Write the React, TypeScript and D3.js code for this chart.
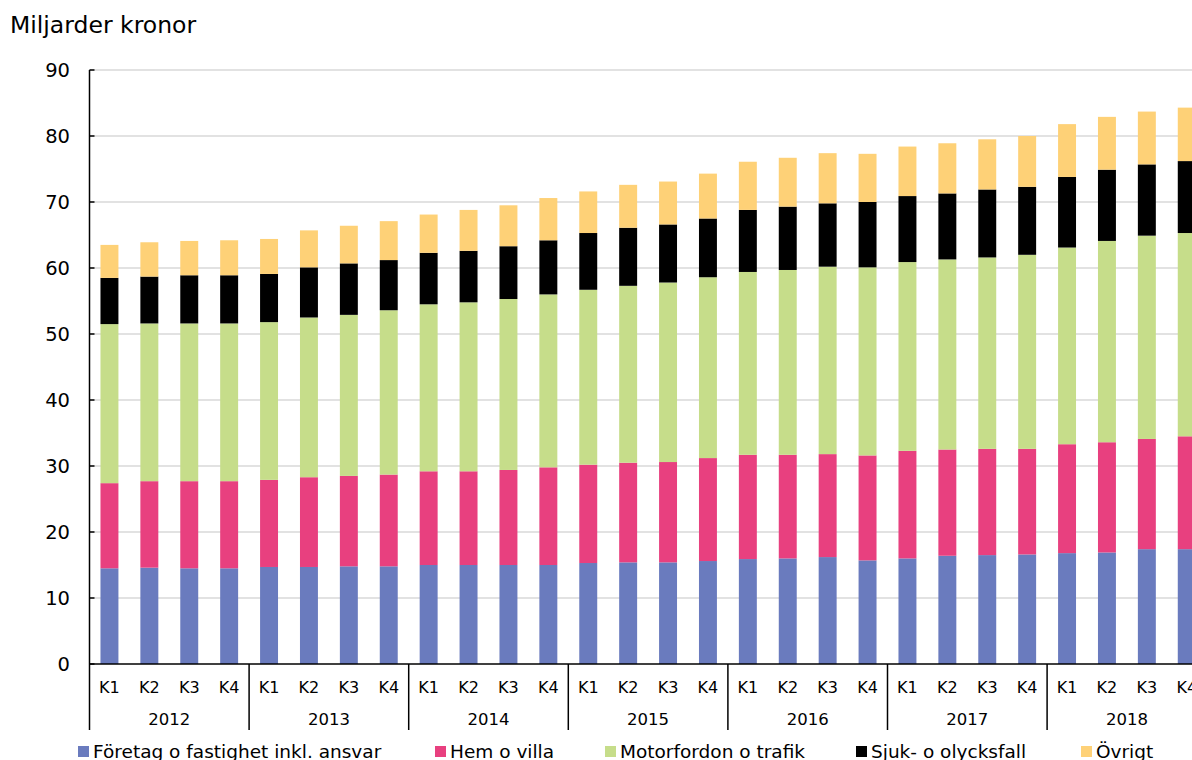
import React from 'react';
import * as d3 from 'd3';

const years = ['2012', '2013', '2014', '2015', '2016', '2017', '2018'];
const quarters = ['K1', 'K2', 'K3', 'K4'];

const seriesNames = [
  'Företag o fastighet inkl. ansvar',
  'Hem o villa',
  'Motorfordon o trafik',
  'Sjuk- o olycksfall',
  'Övrigt',
];
const seriesColors = ['#6a7bbe', '#e8407f', '#c6dd8a', '#000000', '#fed177'];

// one value per quarter, 2012 K1 .. 2018 K4
const foretag = [14.5, 14.6, 14.5, 14.5, 14.7, 14.7, 14.8, 14.8, 15.0, 15.0, 15.0, 15.0, 15.3, 15.4, 15.4, 15.6, 15.9, 16.0, 16.2, 15.7, 16.0, 16.4, 16.5, 16.6, 16.8, 16.9, 17.4, 17.4];
const hem = [12.9, 13.1, 13.2, 13.2, 13.2, 13.6, 13.7, 13.9, 14.2, 14.2, 14.4, 14.8, 14.9, 15.1, 15.2, 15.6, 15.8, 15.7, 15.6, 15.9, 16.3, 16.1, 16.1, 16.0, 16.5, 16.7, 16.7, 17.1];
const motor = [24.1, 23.9, 23.9, 23.9, 23.9, 24.2, 24.4, 24.9, 25.3, 25.6, 25.9, 26.2, 26.5, 26.8, 27.2, 27.4, 27.7, 28.0, 28.4, 28.5, 28.6, 28.8, 29.0, 29.4, 29.8, 30.5, 30.8, 30.8];
const sjuk = [7.0, 7.1, 7.3, 7.3, 7.3, 7.6, 7.8, 7.6, 7.8, 7.8, 8.0, 8.2, 8.6, 8.8, 8.8, 8.9, 9.4, 9.6, 9.6, 9.9, 10.0, 10.0, 10.3, 10.3, 10.7, 10.8, 10.8, 10.9];
const ovrigt = [5.0, 5.2, 5.2, 5.3, 5.3, 5.6, 5.7, 5.9, 5.8, 6.2, 6.2, 6.4, 6.3, 6.5, 6.5, 6.8, 7.3, 7.4, 7.6, 7.3, 7.5, 7.6, 7.6, 7.7, 8.0, 8.0, 8.0, 8.1];

const yTicks = [0, 10, 20, 30, 40, 50, 60, 70, 80, 90];

const W = 1192;
const H = 760;
const font = '"DejaVu Sans", Verdana, sans-serif';

export default function App() {
  const left = 89.5;
  const band = 39.9;
  const periods = years.flatMap((y) => quarters.map((q) => `${y} ${q}`));
  const rows = periods.map((p, i) => ({
    p,
    s0: foretag[i],
    s1: hem[i],
    s2: motor[i],
    s3: sjuk[i],
    s4: ovrigt[i],
  }));
  const keys = ['s0', 's1', 's2', 's3', 's4'];
  const stacked = d3.stack<any>().keys(keys)(rows);

  const x = d3
    .scaleBand()
    .domain(periods)
    .range([left, left + band * periods.length])
    .paddingInner(0.55)
    .paddingOuter(0.275);
  const y = d3.scaleLinear().domain([0, 90]).range([664, 70]);
  const base = y(0);

  const legendX = [78, 435, 605, 856, 1081];

  return (
    <svg
      width={W}
      height={H}
      style={{ position: 'absolute', left: 0, top: 0, background: '#fff' }}
      fontFamily={font}
    >
      <text x={10} y={33} fontSize={23.5} fill="#000">
        Miljarder kronor
      </text>

      {yTicks.map((t) => (
        <g key={t}>
          {t > 0 && (
            <line x1={left} x2={W} y1={y(t)} y2={y(t)} stroke="#d9d9d9" strokeWidth={1.5} />
          )}
          <line x1={left} x2={left + 5} y1={y(t)} y2={y(t)} stroke="#000" strokeWidth={1.5} />
          <text x={70} y={y(t)} dy="0.35em" textAnchor="end" fontSize={19.5} fill="#000">
            {t}
          </text>
        </g>
      ))}

      {stacked.map((layer, si) => (
        <g key={si} fill={seriesColors[si]}>
          {layer.map((d, i) => (
            <rect
              key={i}
              x={x(periods[i])}
              y={y(d[1])}
              width={x.bandwidth()}
              height={y(d[0]) - y(d[1])}
            />
          ))}
        </g>
      ))}

      <line x1={left} x2={left} y1={y(90)} y2={base} stroke="#000" strokeWidth={1.5} />
      <line x1={left} x2={W} y1={base} y2={base} stroke="#000" strokeWidth={1.5} />

      {periods.map((p, i) => (
        <text
          key={p}
          x={(x(p) as number) + x.bandwidth() / 2}
          y={693}
          textAnchor="middle"
          fontSize={16}
          fill="#000"
        >
          {quarters[i % 4]}
        </text>
      ))}

      {years.map((yr, yi) => {
        const x0 = left + yi * 4 * band;
        return (
          <g key={yr}>
            <line x1={x0} x2={x0} y1={base} y2={730} stroke="#000" strokeWidth={1.5} />
            <text x={x0 + 2 * band} y={725} textAnchor="middle" fontSize={16.5} fill="#000">
              {yr}
            </text>
          </g>
        );
      })}

      {seriesNames.map((name, i) => (
        <g key={name}>
          <rect x={legendX[i]} y={746} width={11} height={11} fill={seriesColors[i]} />
          <text x={legendX[i] + 15} y={758} fontSize={18.5} fill="#000">
            {name}
          </text>
        </g>
      ))}
    </svg>
  );
}
